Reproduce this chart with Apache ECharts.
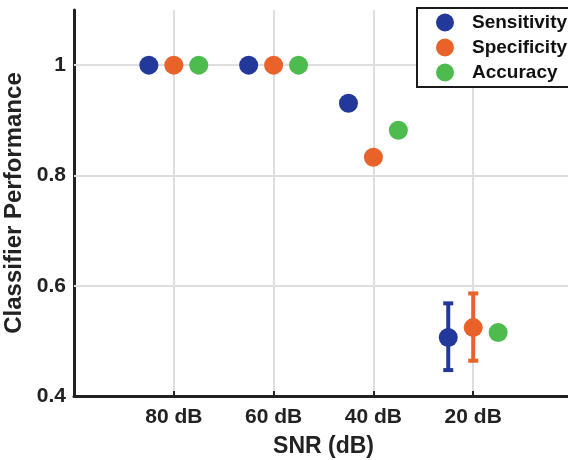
<!DOCTYPE html>
<html>
<head>
<meta charset="utf-8">
<script src="https://cdn.jsdelivr.net/npm/echarts@6/dist/echarts.min.js"></script>
<style>
  html, body { margin: 0; padding: 0; background: #fff; }
  #chart { width: 568px; height: 460px; }
</style>
</head>
<body>
<div id="chart"></div>
<script>
// SNR levels, left to right
let categories = ['80 dB', '60 dB', '40 dB', '20 dB'];

let sensitivity = [1, 1, 0.931, 0.506];
let specificity = [1, 1, 0.833, 0.524];
let accuracy = [1, 1, 0.882, 0.515];

// error bars (null = none)
let sensitivityLow = [null, null, null, 0.447];
let sensitivityHigh = [null, null, null, 0.568];
let specificityLow = [null, null, null, 0.464];
let specificityHigh = [null, null, null, 0.586];

let yTicks = [0.4, 0.6, 0.8, 1];
let yGrid = [0.6, 0.8, 1];

let font = '"Liberation Sans", Arial, Helvetica, sans-serif';
let colors = ['#22389a', '#e8622a', '#4dbb4d'];
let offsets = [-0.25, 0, 0.25];

function points(values, k) {
	return values.map(function (v, i) { return [i + 1 + offsets[k], v]; });
}

function bars(low, high, k) {
	let out = [];
	low.forEach(function (v, i) {
		if (v != null) out.push([i + 1 + offsets[k], v, high[i]]);
	});
	return out;
}

function errorSeries(data, color) {
	return {
		type: 'custom',
		data: data,
		z: 2,
		silent: true,
		renderItem: function (params, api) {
			let lo = api.coord([api.value(0), api.value(1)]);
			let hi = api.coord([api.value(0), api.value(2)]);
			let w = 5;
			let style = { stroke: color, lineWidth: 4 };
			return {
				type: 'group',
				children: [
					{ type: 'line', shape: { x1: lo[0], y1: lo[1], x2: hi[0], y2: hi[1] }, style: style },
					{ type: 'line', shape: { x1: lo[0] - w, y1: lo[1], x2: lo[0] + w, y2: lo[1] }, style: style },
					{ type: 'line', shape: { x1: hi[0] - w, y1: hi[1], x2: hi[0] + w, y2: hi[1] }, style: style }
				]
			};
		}
	};
}

let chart = echarts.init(document.getElementById('chart'));

let option = {
	animation: false,
	textStyle: { fontFamily: font },
	grid: { left: 74, right: -5, top: 10, bottom: 64, containLabel: false, outerBoundsMode: 'none' },
	legend: {
		orient: 'vertical',
		left: 417,
		top: 8,
		data: ['Sensitivity', 'Specificity', 'Accuracy'],
		icon: 'circle',
		itemWidth: 18,
		itemHeight: 18,
		itemGap: 6,
		padding: [5, 30, 5, 19],
		borderColor: '#1a1a1a',
		borderWidth: 2,
		backgroundColor: '#fff',
		textStyle: {
			fontFamily: font, fontSize: 19, fontWeight: 'bold', color: '#111',
			lineHeight: 18, padding: [0, 0, 0, 13]
		}
	},
	xAxis: {
		type: 'value',
		min: 0,
		max: 5,
		interval: 1,
		name: 'SNR (dB)',
		nameLocation: 'middle',
		nameGap: 39,
		nameTextStyle: { fontFamily: font, fontSize: 23, fontWeight: 'bold', color: '#222' },
		axisLine: { lineStyle: { color: '#222', width: 3 } },
		axisTick: { inside: true, length: 5, lineStyle: { color: '#222', width: 2 } },
		axisLabel: {
			margin: 11,
			fontFamily: font, fontSize: 21, fontWeight: 'bold', color: '#222',
			formatter: function (v) { return categories[v - 1] || ''; }
		},
		splitLine: { show: true, lineStyle: { color: '#dedede', width: 2 } }
	},
	yAxis: {
		type: 'value',
		min: 0.4,
		max: 1.1,
		interval: 0.2,
		name: 'Classifier Performance',
		nameLocation: 'middle',
		nameGap: 48,
		nameTextStyle: { fontFamily: font, fontSize: 24, fontWeight: 'bold', color: '#222' },
		axisLine: { show: true, lineStyle: { color: '#222', width: 3 } },
		axisTick: { show: true, inside: true, length: 5, customValues: yTicks, lineStyle: { color: '#222', width: 2 } },
		axisLabel: {
			margin: 8, customValues: yTicks,
			fontFamily: font, fontSize: 21, fontWeight: 'bold', color: '#222'
		},
		splitLine: { show: false }
	},
	series: [
		{
			type: 'line',
			data: [],
			silent: true,
			markLine: {
				silent: true,
				z: 1,
				symbol: 'none',
				label: { show: false },
				lineStyle: { color: '#dedede', width: 2, type: 'solid' },
				data: yGrid.map(function (v) { return { yAxis: v }; })
			}
		},
		errorSeries(bars(sensitivityLow, sensitivityHigh, 0), colors[0]),
		errorSeries(bars(specificityLow, specificityHigh, 1), colors[1]),
		{ name: 'Sensitivity', type: 'scatter', z: 3, symbolSize: 19, itemStyle: { color: colors[0], opacity: 1 }, data: points(sensitivity, 0) },
		{ name: 'Specificity', type: 'scatter', z: 3, symbolSize: 19, itemStyle: { color: colors[1], opacity: 1 }, data: points(specificity, 1) },
		{ name: 'Accuracy', type: 'scatter', z: 3, symbolSize: 19, itemStyle: { color: colors[2], opacity: 1 }, data: points(accuracy, 2) }
	]
};

chart.setOption(option);
</script>
</body>
</html>
